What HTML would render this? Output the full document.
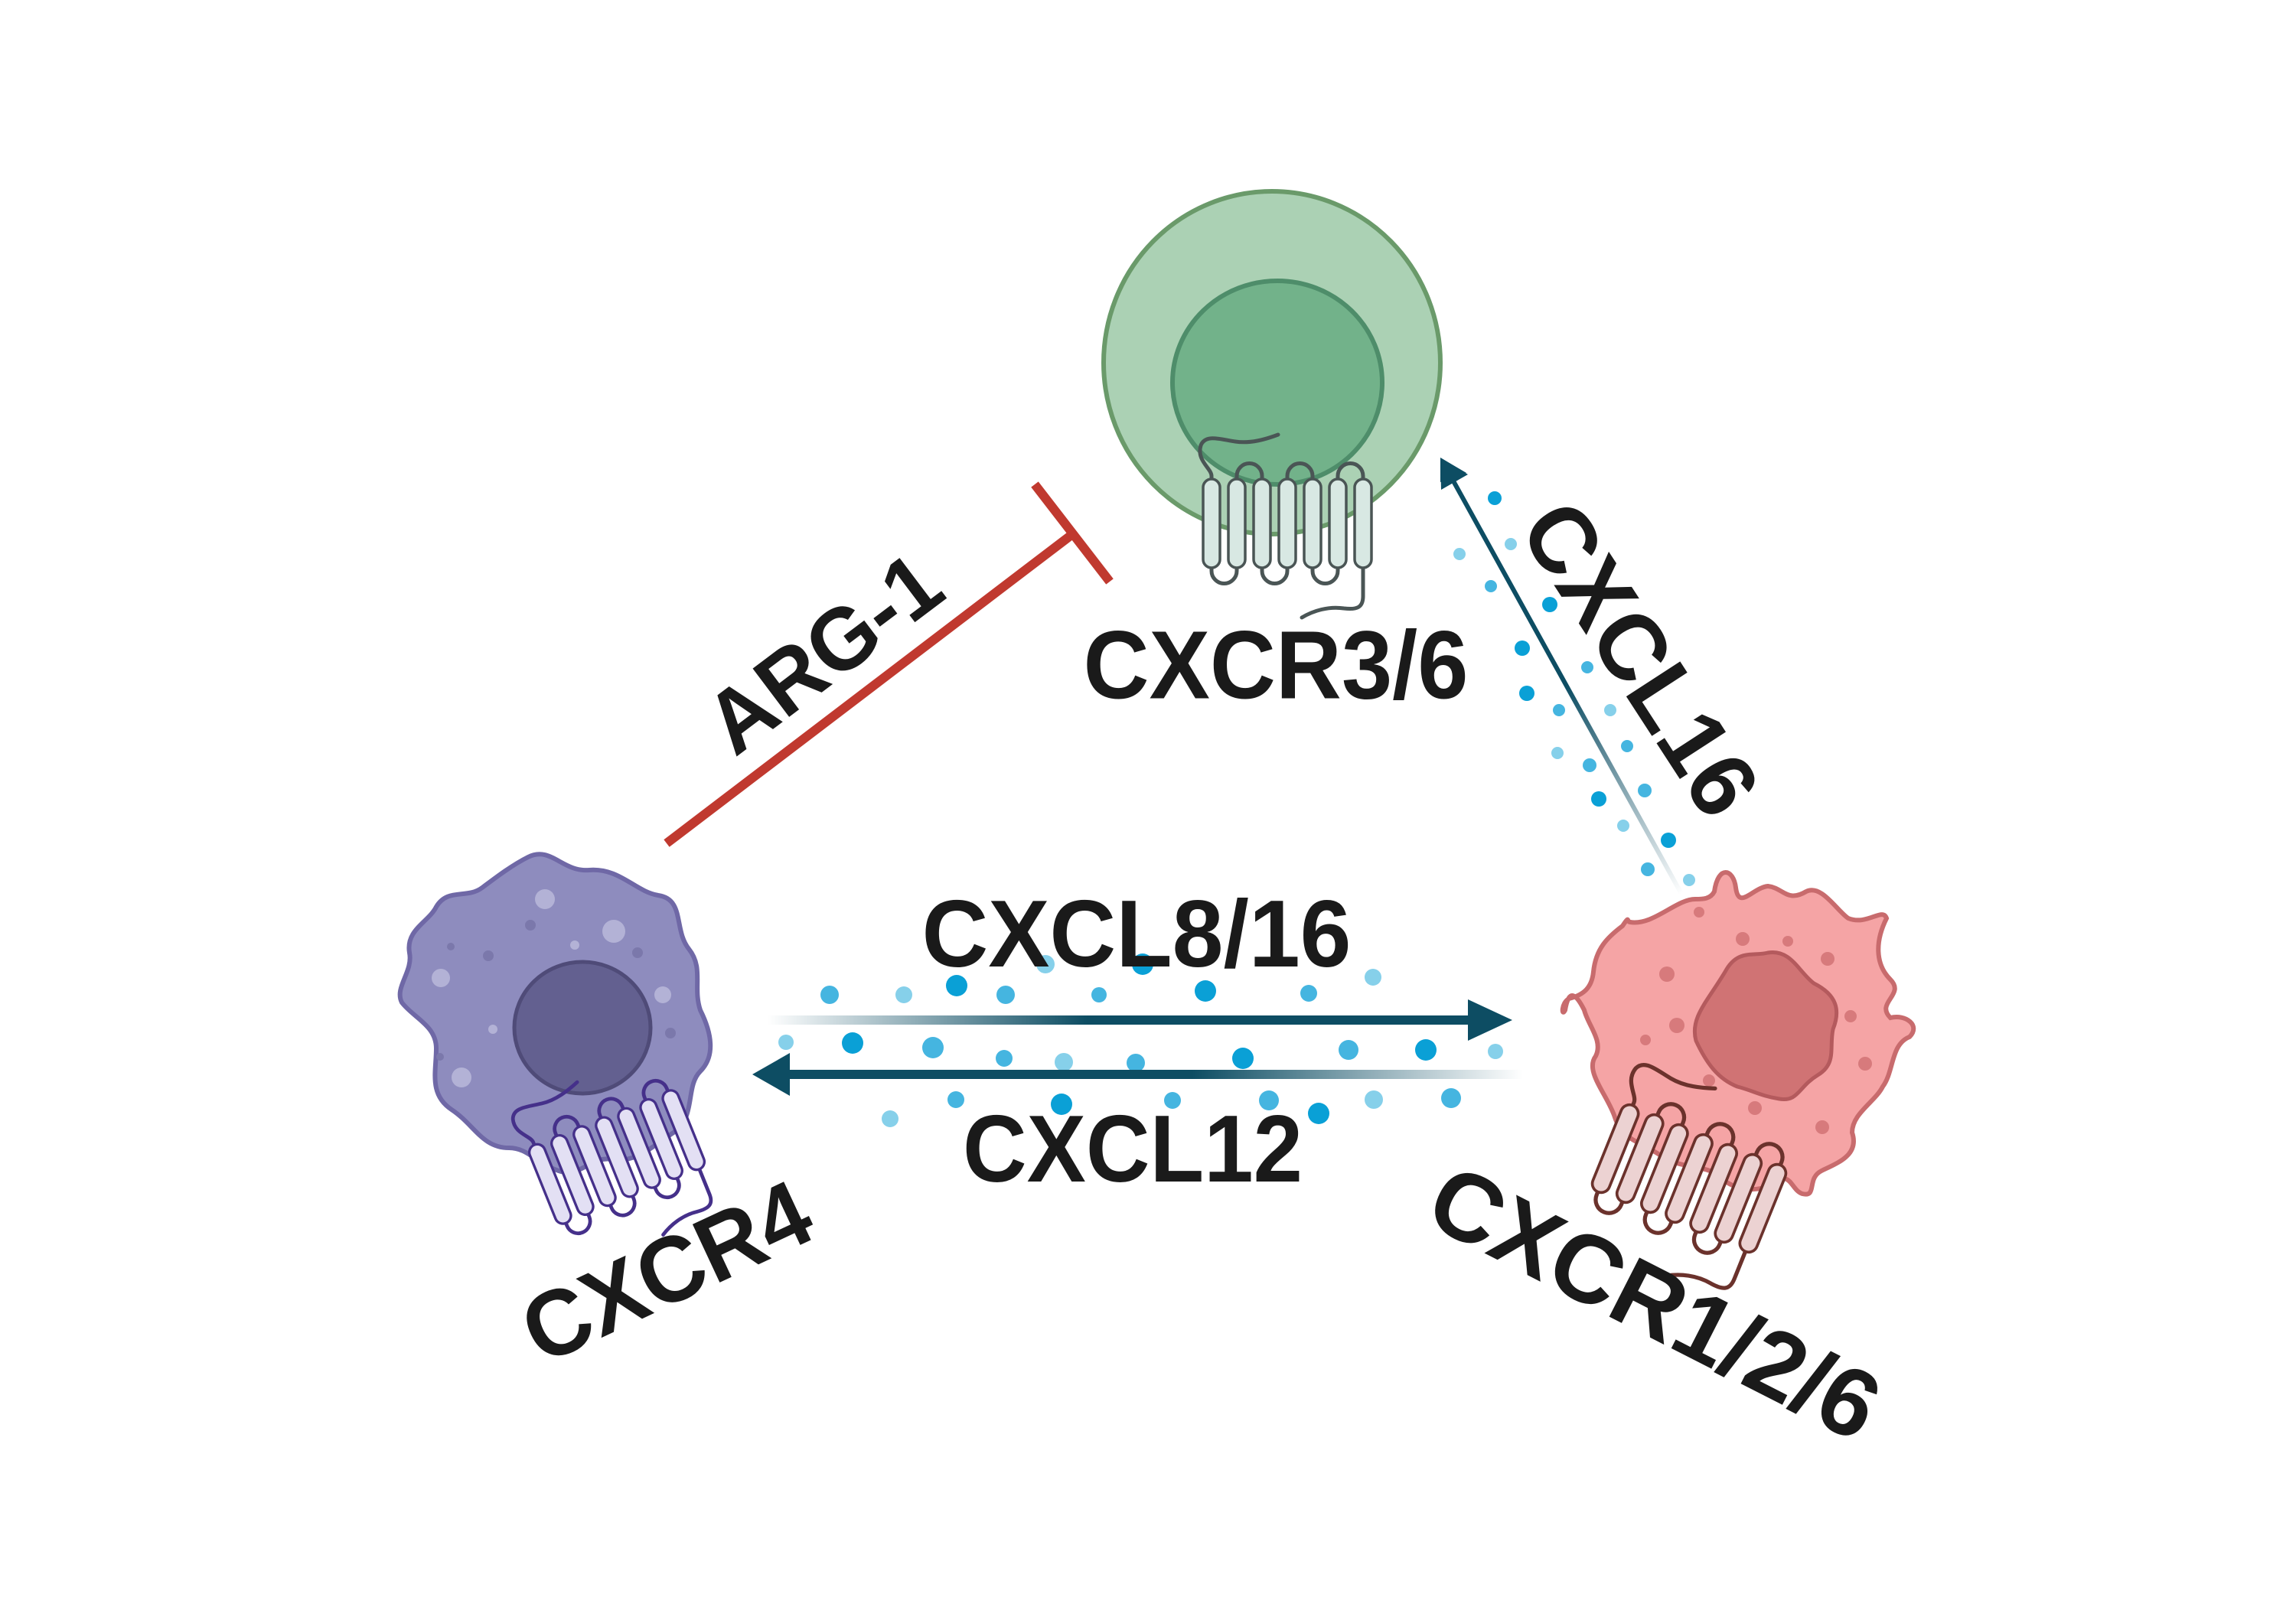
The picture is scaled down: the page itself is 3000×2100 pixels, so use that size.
<!DOCTYPE html>
<html><head><meta charset="utf-8"><style>
html,body{margin:0;padding:0;background:#fff;}
svg{display:block;}
text{font-family:"Liberation Sans",sans-serif;font-weight:bold;fill:#1a1a1a;}
</style></head><body>
<svg width="3000" height="2100" viewBox="0 0 3000 2100" xmlns="http://www.w3.org/2000/svg">
<defs>
<linearGradient id="gR" x1="1003" y1="0" x2="1930" y2="0" gradientUnits="userSpaceOnUse">
<stop offset="0" stop-color="#0d4d63" stop-opacity="0"/><stop offset="0.45" stop-color="#0d4d63"/><stop offset="1" stop-color="#0d4d63"/></linearGradient>
<linearGradient id="gL" x1="1990" y1="0" x2="1030" y2="0" gradientUnits="userSpaceOnUse">
<stop offset="0" stop-color="#0d4d63" stop-opacity="0"/><stop offset="0.45" stop-color="#0d4d63"/><stop offset="1" stop-color="#0d4d63"/></linearGradient>
<linearGradient id="gU" x1="2197" y1="1168" x2="1895" y2="625" gradientUnits="userSpaceOnUse">
<stop offset="0" stop-color="#0d4d63" stop-opacity="0"/><stop offset="0.5" stop-color="#0d4d63"/><stop offset="1" stop-color="#0d4d63"/></linearGradient>
</defs>

<!-- Green cell -->
<ellipse cx="1662" cy="474" rx="220" ry="224" fill="#abd1b4" stroke="#6a9a6a" stroke-width="6"/>
<ellipse cx="1669" cy="500" rx="137" ry="133" fill="#72b28a" stroke="#4e8d6a" stroke-width="6"/>

<!-- Purple cell -->
<path d="M690,1120 C720,1105 735,1140 770,1137 C810,1134 830,1165 860,1170 C895,1175 880,1215 900,1240 C920,1265 905,1290 915,1320 C930,1350 935,1380 915,1400 C895,1420 910,1460 880,1480 C850,1500 830,1520 800,1515 C770,1510 760,1540 730,1530 C700,1520 690,1500 665,1500 C630,1500 620,1470 590,1450 C560,1430 570,1400 570,1370 C570,1340 540,1330 525,1310 C515,1290 540,1270 535,1245 C530,1215 560,1205 570,1185 C585,1160 610,1175 630,1160 C650,1145 670,1130 690,1120 Z" fill="#8e8cbe" stroke="#6f68a6" stroke-width="6"/>
<circle cx="712" cy="1175" r="13" fill="#b3b2d6"/><circle cx="802" cy="1217" r="15" fill="#b3b2d6"/>
<circle cx="576" cy="1278" r="12" fill="#b3b2d6"/><circle cx="866" cy="1300" r="11" fill="#b3b2d6"/>
<circle cx="603" cy="1408" r="13" fill="#b3b2d6"/><circle cx="751" cy="1235" r="6" fill="#b3b2d6"/>
<circle cx="644" cy="1345" r="6" fill="#b3b2d6"/>
<circle cx="693" cy="1209" r="7" fill="#7b78ab"/><circle cx="638" cy="1249" r="7" fill="#7b78ab"/>
<circle cx="833" cy="1245" r="7" fill="#7b78ab"/><circle cx="876" cy="1350" r="7" fill="#7b78ab"/>
<circle cx="575" cy="1381" r="5" fill="#7b78ab"/><circle cx="589" cy="1237" r="5" fill="#7b78ab"/>
<ellipse cx="761" cy="1343" rx="89" ry="86" fill="#636090" stroke="#4f4b78" stroke-width="5"/>

<!-- Pink cell -->
<path d="M2240,1165 C2245,1130 2265,1135 2268,1160 C2272,1190 2290,1160 2310,1158 C2330,1160 2335,1180 2360,1165 C2380,1155 2400,1190 2415,1200 C2440,1210 2460,1185 2465,1200 C2450,1230 2450,1260 2470,1280 C2490,1300 2450,1310 2470,1330 C2490,1325 2510,1340 2495,1355 C2470,1365 2475,1400 2460,1420 C2450,1440 2420,1455 2420,1480 C2430,1510 2400,1520 2380,1530 C2360,1540 2375,1565 2355,1560 C2340,1555 2340,1530 2320,1545 C2300,1560 2265,1555 2250,1540 C2230,1520 2200,1530 2170,1510 C2140,1490 2120,1490 2110,1460 C2100,1430 2070,1400 2085,1380 C2095,1360 2075,1340 2070,1320 C2060,1300 2050,1290 2045,1320 C2040,1330 2040,1310 2050,1305 C2070,1300 2080,1290 2082,1270 C2085,1240 2100,1225 2120,1210 C2130,1195 2125,1205 2130,1205 C2160,1210 2190,1175 2215,1175 C2225,1175 2235,1175 2240,1165 Z" fill="#f5a4a5" stroke="#c86b6d" stroke-width="6"/>
<circle cx="2220" cy="1192" r="7" fill="#d77a7c"/><circle cx="2277" cy="1227" r="9" fill="#d77a7c"/>
<circle cx="2388" cy="1253" r="9" fill="#d77a7c"/><circle cx="2178" cy="1273" r="10" fill="#d77a7c"/>
<circle cx="2191" cy="1340" r="10" fill="#d77a7c"/><circle cx="2150" cy="1359" r="7" fill="#d77a7c"/>
<circle cx="2418" cy="1328" r="8" fill="#d77a7c"/><circle cx="2437" cy="1390" r="9" fill="#d77a7c"/>
<circle cx="2293" cy="1448" r="9" fill="#d77a7c"/><circle cx="2381" cy="1473" r="9" fill="#d77a7c"/>
<circle cx="2336" cy="1230" r="7" fill="#d77a7c"/><circle cx="2233" cy="1412" r="8" fill="#d77a7c"/>
<path d="M2254,1270 C2270,1240 2290,1250 2310,1245 C2340,1240 2350,1270 2370,1285 C2400,1300 2405,1320 2395,1345 C2390,1370 2400,1390 2375,1405 C2350,1420 2350,1440 2325,1436 C2300,1432 2290,1425 2270,1420 C2245,1410 2230,1390 2216,1360 C2208,1330 2230,1310 2254,1270 Z" fill="#d07374" stroke="#b45a5d" stroke-width="5"/>

<!-- receptor template drawer -->
<g id="rg" transform="translate(1682,684)">
 <g fill="none" stroke="#4a5555" stroke-width="5" stroke-linecap="round">
  <path d="M-99,-50 v-12 c0,-10 -20,-20 -14,-40 c6,-15 25,-8 45,-5 c20,3 40,-3 56,-9"/>
  <path d="M-66,-50 v-12 a16.5,16.5 0 0 1 33,0 v12"/>
  <path d="M0,-50 v-12 a16.5,16.5 0 0 1 33,0 v12"/>
  <path d="M66,-50 v-12 a16.5,16.5 0 0 1 33,0 v12"/>
  <path d="M-99,50 v12 a16.5,16.5 0 0 0 33,0 v-12"/>
  <path d="M-33,50 v12 a16.5,16.5 0 0 0 33,0 v-12"/>
  <path d="M33,50 v12 a16.5,16.5 0 0 0 33,0 v-12"/>
  <path d="M99,50 v45 c0,15 -8,18 -25,16 c-20,-3 -40,3 -55,12"/>
 </g>
 <g fill="#d8e8e3" stroke="#4a5555" stroke-width="3.5">
  <rect x="-110" y="-58" width="22" height="116" rx="11"/>
  <rect x="-77" y="-58" width="22" height="116" rx="11"/>
  <rect x="-44" y="-58" width="22" height="116" rx="11"/>
  <rect x="-11" y="-58" width="22" height="116" rx="11"/>
  <rect x="22" y="-58" width="22" height="116" rx="11"/>
  <rect x="55" y="-58" width="22" height="116" rx="11"/>
  <rect x="88" y="-58" width="22" height="116" rx="11"/>
 </g>
</g>

<!-- purple receptor -->
<g transform="translate(806,1512) rotate(-22) scale(0.95)">
 <g fill="none" stroke="#45308a" stroke-width="5" stroke-linecap="round">
  <path d="M-99,-50 v-12 c0,-10 -20,-20 -14,-40 c6,-15 25,-8 45,-5 c20,3 40,-3 56,-9"/>
  <path d="M-66,-50 v-12 a16.5,16.5 0 0 1 33,0 v12"/>
  <path d="M0,-50 v-12 a16.5,16.5 0 0 1 33,0 v12"/>
  <path d="M66,-50 v-12 a16.5,16.5 0 0 1 33,0 v12"/>
  <path d="M-99,50 v12 a16.5,16.5 0 0 0 33,0 v-12"/>
  <path d="M-33,50 v12 a16.5,16.5 0 0 0 33,0 v-12"/>
  <path d="M33,50 v12 a16.5,16.5 0 0 0 33,0 v-12"/>
  <path d="M99,50 v45 c0,15 -8,18 -25,16 c-20,-3 -40,3 -55,12"/>
 </g>
 <g fill="#e3e0f4" stroke="#45308a" stroke-width="3.5">
  <rect x="-110" y="-58" width="22" height="116" rx="11"/>
  <rect x="-77" y="-58" width="22" height="116" rx="11"/>
  <rect x="-44" y="-58" width="22" height="116" rx="11"/>
  <rect x="-11" y="-58" width="22" height="116" rx="11"/>
  <rect x="22" y="-58" width="22" height="116" rx="11"/>
  <rect x="55" y="-58" width="22" height="116" rx="11"/>
  <rect x="88" y="-58" width="22" height="116" rx="11"/>
 </g>
</g>

<!-- pink receptor -->
<g transform="translate(2207,1540) rotate(22) scale(1.05)">
 <g fill="none" stroke="#6b322c" stroke-width="5" stroke-linecap="round">
  <path d="M-99,-50 v-12 c0,-10 -20,-20 -14,-40 c6,-15 25,-8 45,-5 c20,3 40,-3 56,-9"/>
  <path d="M-66,-50 v-12 a16.5,16.5 0 0 1 33,0 v12"/>
  <path d="M0,-50 v-12 a16.5,16.5 0 0 1 33,0 v12"/>
  <path d="M66,-50 v-12 a16.5,16.5 0 0 1 33,0 v12"/>
  <path d="M-99,50 v12 a16.5,16.5 0 0 0 33,0 v-12"/>
  <path d="M-33,50 v12 a16.5,16.5 0 0 0 33,0 v-12"/>
  <path d="M33,50 v12 a16.5,16.5 0 0 0 33,0 v-12"/>
  <path d="M99,50 v45 c0,15 -8,18 -25,16 c-20,-3 -40,3 -55,12"/>
 </g>
 <g fill="#ecd2d2" stroke="#6b322c" stroke-width="3.5">
  <rect x="-110" y="-58" width="22" height="116" rx="11"/>
  <rect x="-77" y="-58" width="22" height="116" rx="11"/>
  <rect x="-44" y="-58" width="22" height="116" rx="11"/>
  <rect x="-11" y="-58" width="22" height="116" rx="11"/>
  <rect x="22" y="-58" width="22" height="116" rx="11"/>
  <rect x="55" y="-58" width="22" height="116" rx="11"/>
  <rect x="88" y="-58" width="22" height="116" rx="11"/>
 </g>
</g>

<!-- ARG-1 inhibition -->
<g stroke="#c0392f" stroke-width="12" stroke-linecap="butt">
<line x1="871" y1="1102" x2="1400" y2="699"/>
<line x1="1352" y1="633" x2="1450" y2="760"/>
</g>

<!-- dots -->
<g>
<circle cx="1084" cy="1300" r="12" fill="#45b5e0"/><circle cx="1181" cy="1300" r="11" fill="#86d0ea"/>
<circle cx="1250" cy="1288" r="14" fill="#0aa0d6"/><circle cx="1314" cy="1300" r="12" fill="#45b5e0"/>
<circle cx="1436" cy="1300" r="10" fill="#45b5e0"/><circle cx="1575" cy="1295" r="14" fill="#0aa0d6"/>
<circle cx="1710" cy="1298" r="11" fill="#45b5e0"/><circle cx="1794" cy="1277" r="11" fill="#86d0ea"/>
<circle cx="1366" cy="1260" r="12" fill="#86d0ea"/><circle cx="1493" cy="1260" r="14" fill="#0aa0d6"/>
<circle cx="1027" cy="1362" r="10" fill="#86d0ea"/><circle cx="1114" cy="1363" r="14" fill="#0aa0d6"/>
<circle cx="1219" cy="1369" r="14" fill="#45b5e0"/><circle cx="1312" cy="1383" r="11" fill="#45b5e0"/>
<circle cx="1390" cy="1388" r="12" fill="#86d0ea"/><circle cx="1484" cy="1389" r="12" fill="#45b5e0"/>
<circle cx="1624" cy="1383" r="14" fill="#0aa0d6"/><circle cx="1762" cy="1372" r="13" fill="#45b5e0"/>
<circle cx="1863" cy="1372" r="14" fill="#0aa0d6"/><circle cx="1954" cy="1374" r="10" fill="#86d0ea"/>
<circle cx="1163" cy="1462" r="11" fill="#86d0ea"/><circle cx="1249" cy="1437" r="11" fill="#45b5e0"/>
<circle cx="1387" cy="1443" r="14" fill="#0aa0d6"/><circle cx="1532" cy="1438" r="11" fill="#45b5e0"/>
<circle cx="1658" cy="1438" r="13" fill="#45b5e0"/><circle cx="1723" cy="1455" r="14" fill="#0aa0d6"/>
<circle cx="1795" cy="1437" r="12" fill="#86d0ea"/><circle cx="1896" cy="1435" r="13" fill="#45b5e0"/>
<circle cx="1953" cy="651" r="9" fill="#0aa0d6"/><circle cx="1907" cy="724" r="8" fill="#86d0ea"/>
<circle cx="1974" cy="711" r="8" fill="#86d0ea"/><circle cx="1948" cy="766" r="8" fill="#45b5e0"/>
<circle cx="2025" cy="790" r="10" fill="#0aa0d6"/><circle cx="1989" cy="847" r="10" fill="#0aa0d6"/>
<circle cx="1995" cy="906" r="10" fill="#0aa0d6"/><circle cx="2074" cy="872" r="8" fill="#45b5e0"/>
<circle cx="2037" cy="928" r="8" fill="#45b5e0"/><circle cx="2104" cy="928" r="8" fill="#86d0ea"/>
<circle cx="2126" cy="975" r="8" fill="#45b5e0"/><circle cx="2035" cy="984" r="8" fill="#86d0ea"/>
<circle cx="2077" cy="1000" r="9" fill="#45b5e0"/><circle cx="2089" cy="1044" r="10" fill="#0aa0d6"/>
<circle cx="2149" cy="1033" r="9" fill="#45b5e0"/><circle cx="2121" cy="1079" r="8" fill="#86d0ea"/>
<circle cx="2180" cy="1098" r="10" fill="#0aa0d6"/><circle cx="2153" cy="1136" r="9" fill="#45b5e0"/>
<circle cx="2207" cy="1150" r="8" fill="#86d0ea"/>
</g>

<!-- arrows -->
<rect x="1003" y="1327" width="920" height="12" fill="url(#gR)"/>
<polygon points="1918,1306 1976,1333 1918,1360" fill="#0d4d63"/>
<rect x="1030" y="1398" width="960" height="12" fill="url(#gL)"/>
<polygon points="1032,1376 983,1404 1032,1432" fill="#0d4d63"/>
<line x1="2197" y1="1168" x2="1897" y2="625" stroke="url(#gU)" stroke-width="6"/>
<polygon points="1882,598 1916,618 1882,630" fill="#0d4d63" transform="rotate(0)"/>
<polygon points="1882,598 1883,640 1918,620" fill="#0d4d63"/>

<!-- labels -->
<text x="1667" y="869" font-size="126" text-anchor="middle" dominant-baseline="central" textLength="503" lengthAdjust="spacingAndGlyphs">CXCR3/6</text>
<text x="1485" y="1221" font-size="124" text-anchor="middle" dominant-baseline="central" textLength="561" lengthAdjust="spacingAndGlyphs">CXCL8/16</text>
<text x="1480" y="1502" font-size="124" text-anchor="middle" dominant-baseline="central" textLength="444" lengthAdjust="spacingAndGlyphs">CXCL12</text>
<text transform="translate(1100,885) rotate(-37)" font-size="115" text-anchor="middle" textLength="350" lengthAdjust="spacingAndGlyphs">ARG-1</text>
<text transform="translate(2143,861) rotate(57)" font-size="122" text-anchor="middle" dominant-baseline="central" textLength="460" lengthAdjust="spacingAndGlyphs">CXCL16</text>
<text transform="translate(871,1662) rotate(-25)" font-size="122" text-anchor="middle" dominant-baseline="central" textLength="400" lengthAdjust="spacingAndGlyphs">CXCR4</text>
<text transform="translate(2162,1702) rotate(27)" font-size="126" text-anchor="middle" dominant-baseline="central" textLength="640" lengthAdjust="spacingAndGlyphs">CXCR1/2/6</text>
</svg>
</body></html>
